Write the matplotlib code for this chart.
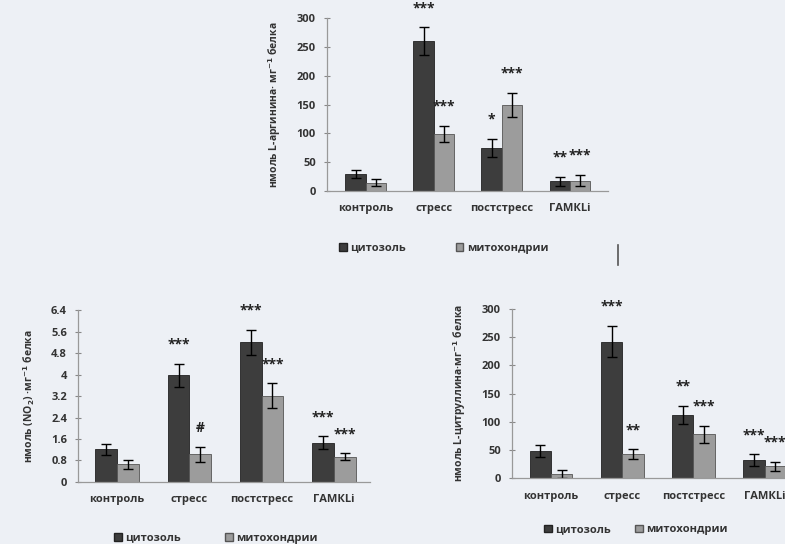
import matplotlib.pyplot as plt
from matplotlib.patches import Patch
import numpy as np

plt.rcParams['font.family'] = ['Open Sans', 'DejaVu Sans']
plt.rcParams['font.weight'] = 'bold'
plt.rcParams['axes.labelweight'] = 'bold'
plt.rcParams['mathtext.default'] = 'bf'

groups = ['контроль', 'стресс', 'постстресс', 'ГАМКLi']
series = ['цитозоль', 'митохондрии']

# L-аргинин
arg_cyt = [29, 260, 75, 17]
arg_cyt_err = [7, 24, 16, 8]
arg_mit = [14, 99, 149, 18]
arg_mit_err = [6, 14, 21, 10]
arg_cyt_marks = ['', '***', '*', '**']
arg_mit_marks = ['', '***', '***', '***']
arg_ticks = [0, 50, 100, 150, 200, 250, 300]

# NO2
no2_cyt = [1.22, 3.98, 5.2, 1.46]
no2_cyt_err = [0.2, 0.43, 0.46, 0.25]
no2_mit = [0.66, 1.03, 3.21, 0.94]
no2_mit_err = [0.16, 0.28, 0.46, 0.13]
no2_cyt_marks = ['', '***', '***', '***']
no2_mit_marks = ['', '#', '***', '***']
no2_ticks = [0, 0.8, 1.6, 2.4, 3.2, 4, 4.8, 5.6, 6.4]
no2_tick_labels = ['0', '0.8', '1.6', '2.4', '3.2', '4', '4.8', '5.6', '6.4']

# L-цитруллин
cit_cyt = [48, 242, 112, 32]
cit_cyt_err = [10, 28, 16, 10]
cit_mit = [7, 42, 78, 21]
cit_mit_err = [7, 9, 15, 8]
cit_cyt_marks = ['', '***', '**', '***']
cit_mit_marks = ['', '**', '***', '***']
cit_ticks = [0, 50, 100, 150, 200, 250, 300]

BG = '#edf0f5'
C_CYT = '#3d3d3d'
C_MIT = '#9c9c9c'
W = 0.3

fig = plt.figure(figsize=(7.85, 5.44), dpi=100, facecolor=BG)


def panel(rect, cyt, cyt_err, mit, mit_err, cyt_marks, mit_marks,
          ymax, ticks, tick_labels, ylabel, xlim):
    ax = fig.add_axes(rect)
    ax.set_facecolor('none')
    x = np.arange(len(groups))
    ekw = dict(ecolor='black', elinewidth=1.0, capsize=3.5, capthick=1.0)
    ax.bar(x - W / 2, cyt, W, yerr=cyt_err, color=C_CYT, edgecolor='#222222',
           linewidth=0.6, error_kw=ekw)
    ax.bar(x + W / 2, mit, W, yerr=mit_err, color=C_MIT, edgecolor='#555555',
           linewidth=0.6, error_kw=ekw)
    for xi, v, e, m in zip(x - W / 2, cyt, cyt_err, cyt_marks):
        if m:
            ax.annotate(m, (xi, v + e), xytext=(0, 15), textcoords='offset pixels',
                        ha='center', va='baseline', fontsize=10, color='#222222',
                        annotation_clip=False)
    for xi, v, e, m in zip(x + W / 2, mit, mit_err, mit_marks):
        if m:
            ax.annotate(m, (xi, v + e), xytext=(0, 15), textcoords='offset pixels',
                        ha='center', va='baseline', fontsize=10, color='#222222',
                        annotation_clip=False)
    ax.set_ylim(0, ymax)
    ax.set_xlim(*xlim)
    ax.set_yticks(ticks)
    ax.set_yticklabels(tick_labels, fontsize=8, color='#333333')
    ax.set_xticks(x)
    ax.set_xticklabels(groups, fontsize=8, color='#333333')
    ax.tick_params(axis='x', length=0, pad=9)
    ax.tick_params(axis='y', direction='inout', length=4, width=0.8,
                   color='#888888', pad=6)
    for s in ['top', 'right']:
        ax.spines[s].set_visible(False)
    for s in ['left', 'bottom']:
        ax.spines[s].set_color('#999999')
        ax.spines[s].set_linewidth(0.9)
    ax.set_ylabel(ylabel, fontsize=7.5, color='#333333', labelpad=10)
    return ax


ax1 = panel([0.4166, 0.6489, 0.358, 0.318], arg_cyt, arg_cyt_err, arg_mit,
            arg_mit_err, arg_cyt_marks, arg_mit_marks, 300, arg_ticks,
            [str(t) for t in arg_ticks], 'нмоль L-аргинина· мг$^{-1}$ белка',
            (-0.57, 3.56))
ax2 = panel([0.0994, 0.114, 0.372, 0.316], no2_cyt, no2_cyt_err, no2_mit,
            no2_mit_err, no2_cyt_marks, no2_mit_marks, 6.4, no2_ticks,
            no2_tick_labels, 'нмоль (NO$_2$) ·мг$^{-1}$ белка', (-0.54, 3.5))
ax3 = panel([0.6522, 0.1213, 0.367, 0.3107], cit_cyt, cit_cyt_err, cit_mit,
            cit_mit_err, cit_cyt_marks, cit_mit_marks, 300, cit_ticks,
            [str(t) for t in cit_ticks], 'нмоль L-цитруллина·мг$^{-1}$ белка',
            (-0.55, 3.5))

handles = [Patch(facecolor=C_CYT, edgecolor='#222222'),
           Patch(facecolor=C_MIT, edgecolor='#555555')]
for cx, cy, gap in [(0.565, 0.544, 4.5), (0.275, 0.011, 4.0), (0.81, 0.026, 2.2)]:
    fig.legend(handles, series, loc='center', bbox_to_anchor=(cx, cy), ncol=2,
               frameon=False, fontsize=8, handlelength=0.7, handleheight=0.7,
               handletextpad=0.3, columnspacing=gap, labelcolor='#333333')

# курсор между панелями
fig.add_artist(plt.Line2D([618 / 785, 618 / 785], [1 - 245 / 544, 1 - 265 / 544],
                          color='#555555', linewidth=1.2))

fig.savefig('out.png', dpi=100, facecolor=BG)
